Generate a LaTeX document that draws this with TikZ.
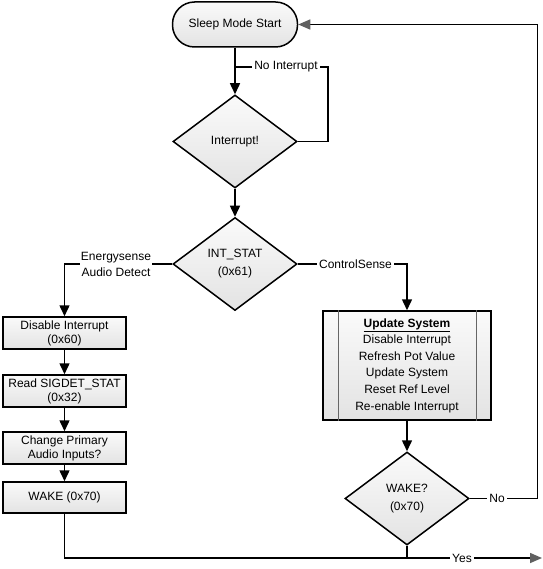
\documentclass[tikz,border=0pt]{standalone}
\usepackage{fontspec}
\setmainfont{Liberation Sans}
\usetikzlibrary{shapes.geometric,arrows.meta,calc}
\tikzset{
  base/.style={draw=black, line width=1.5pt, top color=gray!4, bottom color=gray!22, font=\fontsize{12}{16.6}\selectfont, align=center, inner sep=0pt},
  term/.style={base, rounded corners=22pt, minimum width=125pt, minimum height=45pt},
  dec/.style={base, diamond, minimum width=124pt, minimum height=93pt, font=\fontsize{12}{18}\selectfont},
  proc/.style={base, rectangle, minimum width=123pt, minimum height=32pt, font=\fontsize{12}{14}\selectfont},
  conn/.style={line width=1.5pt, draw=black},
  arr/.style={conn, -{Triangle[length=11pt,width=10pt]}},
  garr/.style={conn, -{Triangle[length=12pt,width=10pt,fill=gray!75!black,color=gray!75!black]}},
  lbl/.style={fill=white, inner sep=2pt, font=\fontsize{12}{16}\selectfont, align=center},
}
\begin{document}
\begin{tikzpicture}[x=1pt,y=-1pt]
\useasboundingbox (0,0) rectangle (542,569);
\node[term] (start) at (235,24.5) {Sleep Mode Start};
\node[dec] (d1) at (235,141.5) {Interrupt!};
\node[dec] (d2) at (235,264) {INT\_STAT\\(0x61)};
\node[proc] (b1) at (64.5,333) {Disable Interrupt\\(0x60)};
\node[proc] (b2) at (64.5,391) {Read SIGDET\_STAT\\(0x32)};
\node[proc] (b3) at (64.5,448) {Change Primary\\Audio Inputs?};
\node[proc, minimum height=31pt] (b4) at (64.5,497.5) {WAKE (0x70)};
\node[base, rectangle, minimum width=168pt, minimum height=109pt] (b5) at (407,365.5)
  {\underline{\textbf{Update System}}\\Disable Interrupt\\Refresh Pot Value\\Update System\\Reset Ref Level\\Re-enable Interrupt};
\draw[line width=1pt, draw=gray!80!black] ([xshift=16pt]b5.north west) -- ([xshift=16pt]b5.south west);
\draw[line width=1pt, draw=gray!80!black] ([xshift=-15pt]b5.north east) -- ([xshift=-15pt]b5.south east);
\node[dec] (d3) at (407,498.5) {WAKE?\\(0x70)};

\coordinate (j1) at (235,67);
\coordinate (c1) at (328,67);
\coordinate (yesend) at (542,558);
\coordinate (yesj) at (407,558);
\coordinate (noc) at (537.5,498.5);
\coordinate (noc2) at (537.5,24.5);

\draw[arr] (start) -- (d1);
\draw[conn] (d1.east) -| (c1) -- (j1);
\node[lbl] (lni) at (286,67) {No Interrupt};
\draw[arr] (d1) -- (d2);
\draw[arr] (d2.west) -| (b1.north);
\node[lbl, inner sep=1pt] (les) at (116,264) {Energysense\\Audio Detect};
\draw[arr] (d2.east) -| (b5.north);
\node[lbl] (lcs) at (355.5,264) {ControlSense};
\draw[arr] (b1) -- (b2);
\draw[arr] (b2) -- (b3);
\draw[arr] (b3) -- (b4);
\draw[arr] (b5) -- (d3);
\draw[garr] (b4.south) |- (yesend);
\draw[conn] (d3.south) -- (yesj);
\node[lbl] (lyes) at (462,558) {Yes};
\draw[garr] (d3.east) -- (noc) -- (noc2) -- (start.east);
\node[lbl] (lno) at (497,498.5) {No};
\end{tikzpicture}
\end{document}
